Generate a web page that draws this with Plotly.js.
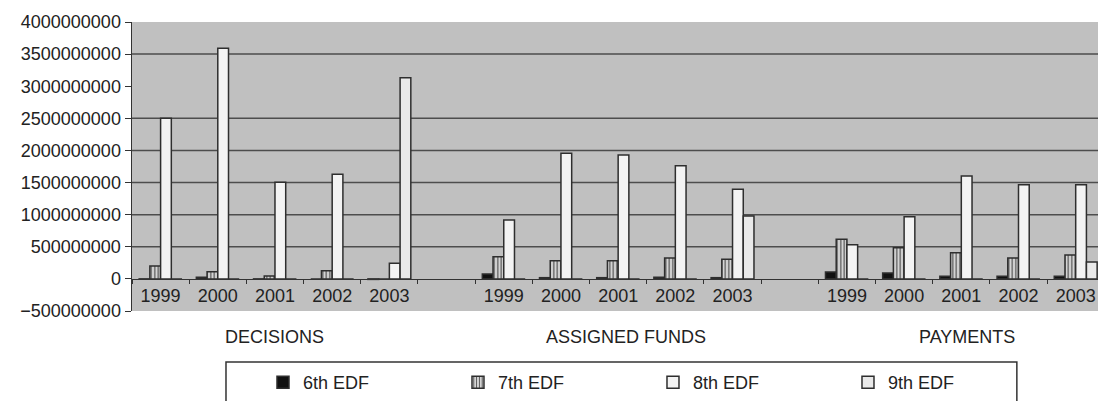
<!DOCTYPE html>
<html>
<head>
<meta charset="utf-8">
<script src="https://cdn.plot.ly/plotly-3.0.1.min.js"></script>
<style>
  html, body { margin: 0; padding: 0; background: #ffffff; }
  #chart { width: 1098px; height: 401px; }
</style>
</head>
<body>
<div id="chart"></div>
<script>
// ---- data ----
var groups = ['DECISIONS', 'ASSIGNED FUNDS', 'PAYMENTS'];
var years = ['1999', '2000', '2001', '2002', '2003'];
var seriesNames = ['6th EDF', '7th EDF', '8th EDF', '9th EDF'];

// values per group, years 1999..2003
var edf6Decisions = [-5e6, 25e6, -4e6, 0, -8e6];
var edf7Decisions = [200e6, 112e6, 45e6, 128e6, 0];
var edf8Decisions = [2500e6, 3590e6, 1504e6, 1630e6, 243e6];
var edf9Decisions = [0, 0, 0, 0, 3130e6];

var edf6Assigned = [76e6, 19e6, 19e6, 25e6, 19e6];
var edf7Assigned = [346e6, 283e6, 283e6, 325e6, 305e6];
var edf8Assigned = [917e6, 1956e6, 1930e6, 1763e6, 1395e6];
var edf9Assigned = [0, 0, 0, 0, 979e6];

var edf6Payments = [107e6, 92e6, 40e6, 40e6, 40e6];
var edf7Payments = [617e6, 486e6, 408e6, 325e6, 372e6];
var edf8Payments = [533e6, 969e6, 1602e6, 1467e6, 1467e6];
var edf9Payments = [0, 0, 0, 0, 263e6];

var yTickValues = [-5e8, 0, 5e8, 1e9, 1.5e9, 2e9, 2.5e9, 3e9, 3.5e9, 4e9];
var gridValues = [5e8, 1e9, 1.5e9, 2e9, 2.5e9, 3.5e9]; // the 3e9 line is absent in the reference

// ---- build categories (with one empty slot between groups) ----
var seriesByGroup = [
  [edf6Decisions, edf6Assigned, edf6Payments],
  [edf7Decisions, edf7Assigned, edf7Payments],
  [edf8Decisions, edf8Assigned, edf8Payments],
  [edf9Decisions, edf9Assigned, edf9Payments]
];
var cats = [], catLabels = [];
groups.forEach(function (g, gi) {
  years.forEach(function (y) { cats.push(g + ' ' + y); catLabels.push(y); });
  if (gi < groups.length - 1) { cats.push('gap' + gi); catLabels.push(''); }
});

function buildY(perGroup) {
  var out = [];
  groups.forEach(function (g, gi) {
    perGroup[gi].forEach(function (v) { out.push(v); });
    if (gi < groups.length - 1) out.push(null);
  });
  return out;
}

var styles = [
  { color: '#111111' },
  { color: '#d4d4d4', pattern: { shape: '|', size: 3.5, solidity: 0.35, fgcolor: '#555555', bgcolor: '#d4d4d4' } },
  { color: '#f3f3f3' },
  { color: '#e9e9e9' }
];

var traces = seriesNames.map(function (name, i) {
  var m = { color: styles[i].color, line: { color: '#2e2e2e', width: 1.5 } };
  if (styles[i].pattern) m.pattern = styles[i].pattern;
  return { type: 'bar', name: name, x: cats, y: buildY(seriesByGroup[i]), marker: m, hoverinfo: 'skip' };
});

var shapes = gridValues.map(function (v) {
  return { type: 'line', xref: 'paper', x0: 0, x1: 1, yref: 'y', y0: v, y1: v,
           line: { color: '#4d4d4d', width: 1.5 }, layer: 'below' };
});
// legend frame (bottom edge falls outside the picture, as in the reference)
shapes.push({ type: 'rect', xref: 'paper', yref: 'paper', x0: 0.0973, x1: 0.916, y0: -0.1765, y1: -0.5,
              line: { color: '#333333', width: 1.5 }, fillcolor: 'rgba(0,0,0,0)' });

var labelShift = [0, 8, 6];
var annotations = groups.map(function (g, gi) {
  return { xref: 'x', x: g + ' ' + years[2], yref: 'paper', y: -0.09, yanchor: 'middle',
           xshift: labelShift[gi],
           text: g, showarrow: false, font: { size: 18, color: '#222222' } };
});

var layout = {
  width: 1098, height: 401,
  margin: { l: 132, r: 0, t: 22, b: 90, pad: 0 },
  paper_bgcolor: '#ffffff', plot_bgcolor: '#c0c0c0',
  font: { family: 'Liberation Sans, Arial, sans-serif', size: 18, color: '#222222' },
  barmode: 'group', bargap: 0.25, bargroupgap: 0,
  showlegend: true,
  legend: { orientation: 'h', x: 0.1356, xanchor: 'left', y: -0.249, yanchor: 'middle',
            bgcolor: 'rgba(0,0,0,0)', borderwidth: 0, font: { size: 18 },
            entrywidth: 150, entrywidthmode: 'pixels', traceorder: 'normal' },
  xaxis: {
    type: 'category', categoryorder: 'array', categoryarray: cats,
    tickmode: 'array', tickvals: cats, ticktext: catLabels,
    range: [-0.5, 16.39], anchor: 'free', position: 0.1111,
    showline: true, linecolor: '#333333', linewidth: 1.5,
    ticks: 'outside', tickson: 'boundaries', ticklen: 4, tickcolor: '#333333', tickwidth: 1,
    showgrid: false, zeroline: false, fixedrange: true
  },
  yaxis: {
    range: [-5e8, 4e9], tickmode: 'array', tickvals: yTickValues, tickformat: 'd',
    showline: true, linecolor: '#333333', linewidth: 1.5,
    ticks: 'outside', ticklen: 6, tickcolor: '#333333', tickwidth: 1,
    showgrid: false, zeroline: false, fixedrange: true
  },
  shapes: shapes,
  annotations: annotations
};

Plotly.newPlot('chart', traces, layout, { staticPlot: true, displayModeBar: false });
</script>
</body>
</html>
